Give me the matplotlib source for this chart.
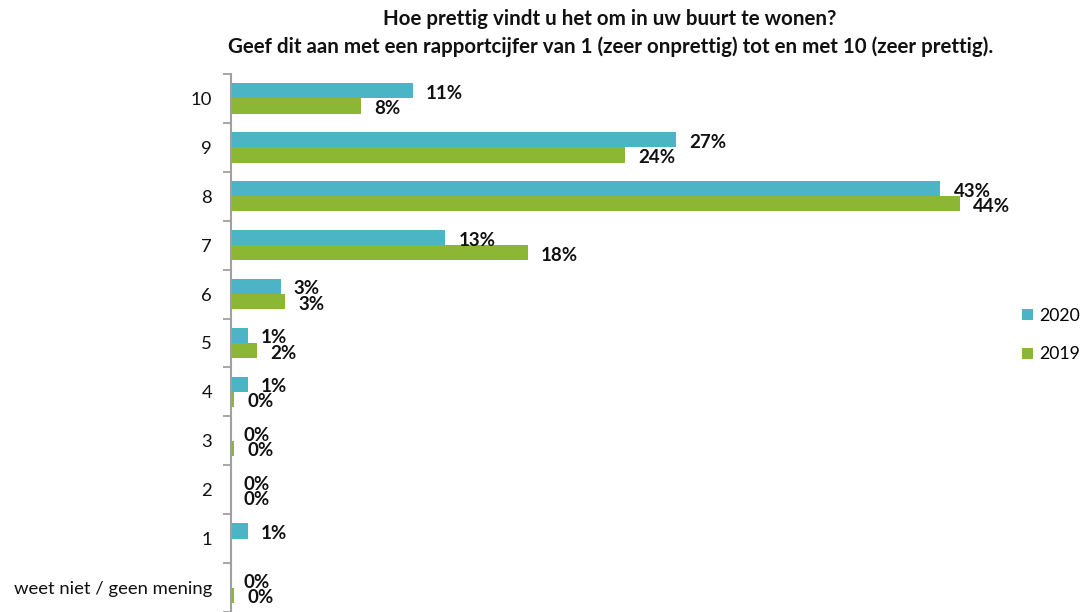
import matplotlib
matplotlib.use("Agg")
import matplotlib.pyplot as plt
import numpy as np
from matplotlib.patches import Patch

categories = ["10", "9", "8", "7", "6", "5", "4", "3", "2", "1", "weet niet / geen mening"]
values_2020 = [11, 27, 43, 13, 3, 1, 1, 0, 0, 1, 0]
values_2019 = [7.9, 23.9, 44.2, 18, 3.3, 1.6, 0.2, 0.2, 0, np.nan, 0.2]
labels_2020 = ["11%", "27%", "43%", "13%", "3%", "1%", "1%", "0%", "0%", "1%", "0%"]
labels_2019 = ["8%", "24%", "44%", "18%", "3%", "2%", "0%", "0%", "0%", "", "0%"]
series_names = ["2020", "2019"]
title_lines = ["Hoe prettig vindt u het om in uw buurt te wonen?",
               "Geef dit aan met een rapportcijfer van 1 (zeer onprettig) tot en met 10 (zeer prettig)."]

C2020 = "#4BB4C5"
C2019 = "#8CB735"
FONT = "Lato"
plt.rcParams['font.family'] = [FONT, 'DejaVu Sans']

W, H = 1084, 612
fig = plt.figure(figsize=(W / 100, H / 100), dpi=100)
ax = fig.add_axes([231 / W, 0.0, 1 - 231 / W - 28 / W, 1 - 74 / H])

n = len(categories)
y = np.arange(n)
bh = 0.31
ax.barh(y - bh / 2, values_2020, height=bh, color=C2020, edgecolor="none")
ax.barh(y + bh / 2, values_2019, height=bh, color=C2019, edgecolor="none")

for i in range(n):
    for v, lab, off in ((values_2020[i], labels_2020[i], -bh / 2 + 0.05),
                        (values_2019[i], labels_2019[i], bh / 2 + 0.05)):
        if lab == "" or (isinstance(v, float) and np.isnan(v)):
            continue
        ax.annotate(lab, xy=(v, y[i] + off), xytext=(13, 0), textcoords="offset pixels",
                    ha="left", va="center", fontsize=13.5, fontweight="bold", color="#111111")

ax.set_xlim(0, 824.5 / 16.49)
ax.set_ylim(n - 0.5, -0.5)
ax.set_yticks(y)
ax.set_yticklabels(categories, fontsize=13.3, color="#111111")
ax.set_yticks(np.arange(n + 1) - 0.5, minor=True)
ax.tick_params(axis="y", which="major", length=0, pad=13.7)
ax.tick_params(axis="y", which="minor", length=6, width=1.3, color="#A0A0A0", direction="out")
ax.set_xticks([])
for s in ("top", "right", "bottom"):
    ax.spines[s].set_visible(False)
ax.spines["left"].set_color("#A0A0A0")
ax.spines["left"].set_linewidth(1.5)

fig.text(610 / W, 1 - 19 / H, title_lines[0], ha="center", va="center", fontsize=14.8, fontweight="bold", color="#111111")
fig.text(611 / W, 1 - 47 / H, title_lines[1], ha="center", va="center", fontsize=14.8, fontweight="bold", color="#111111")

handles = [Patch(facecolor=C2020, edgecolor="none"), Patch(facecolor=C2019, edgecolor="none")]
fig.legend(handles, series_names, loc="center left", bbox_to_anchor=(1022 / W, 1 - 335 / H), frameon=False,
           fontsize=12.7, handlelength=0.6, handleheight=0.6, handletextpad=0.35, labelspacing=1.3,
           borderpad=0, borderaxespad=0)

fig.savefig("out.png", dpi=100)
